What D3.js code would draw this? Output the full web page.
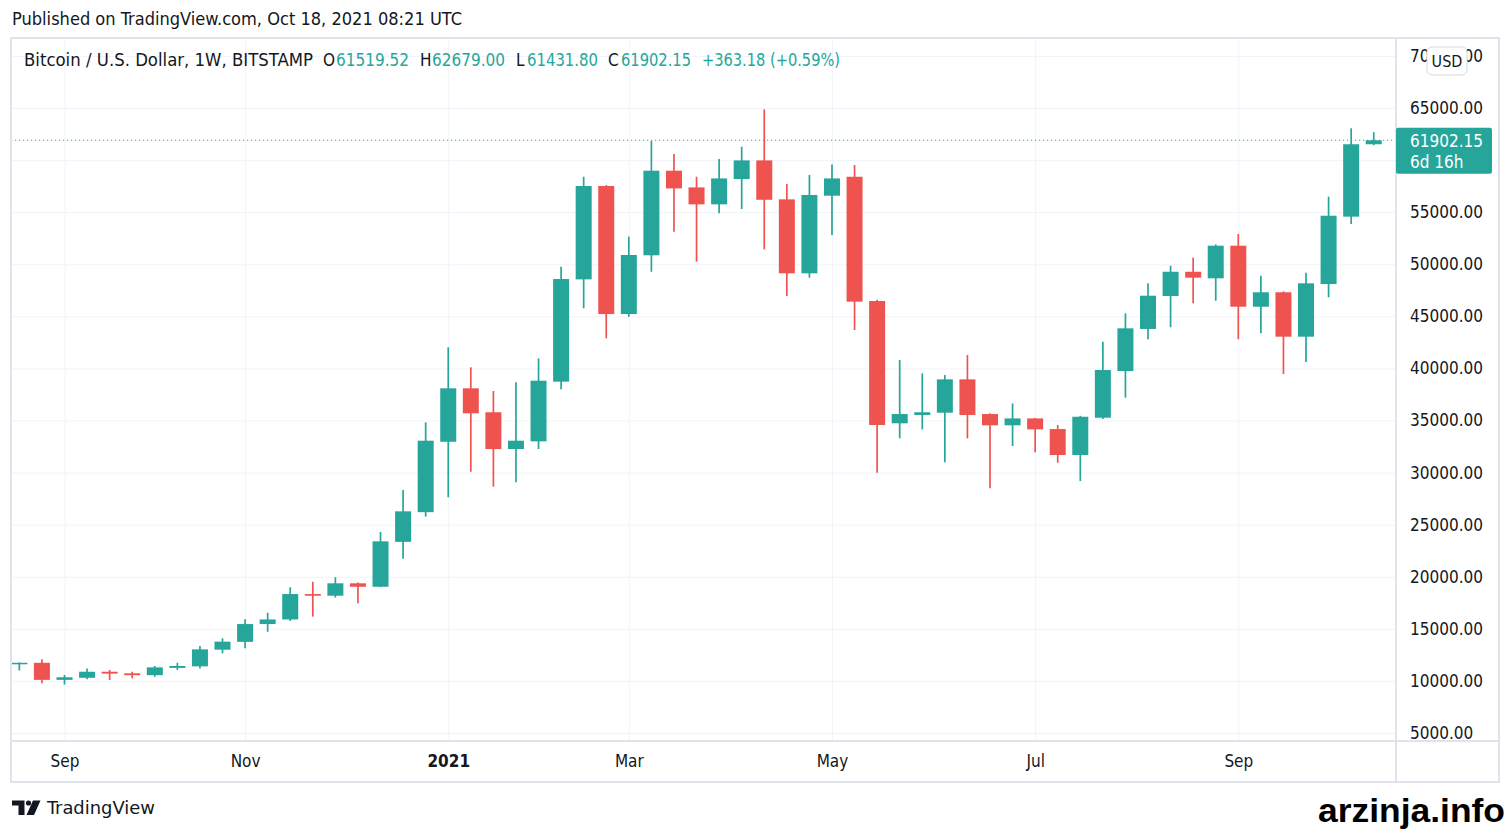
<!DOCTYPE html>
<html>
<head>
<meta charset="utf-8">
<script src="https://cdn.jsdelivr.net/npm/d3@7"></script>
<style>
body { margin: 0; background: #fff; }
text { font-family: "DejaVu Sans Condensed", "DejaVu Sans", sans-serif; fill: #131722; }
</style>
</head>
<body>
<div id="chart"></div>
<script>
// weekly candles, BTCUSD Bitstamp
var weeks = ["2020-08-24","2020-08-31","2020-09-07","2020-09-14","2020-09-21","2020-09-28","2020-10-05","2020-10-12",
    "2020-10-19","2020-10-26","2020-11-02","2020-11-09","2020-11-16","2020-11-23","2020-11-30","2020-12-07",
    "2020-12-14","2020-12-21","2020-12-28","2021-01-04","2021-01-11","2021-01-18","2021-01-25","2021-02-01",
    "2021-02-08","2021-02-15","2021-02-22","2021-03-01","2021-03-08","2021-03-15","2021-03-22","2021-03-29",
    "2021-04-05","2021-04-12","2021-04-19","2021-04-26","2021-05-03","2021-05-10","2021-05-17","2021-05-24",
    "2021-05-31","2021-06-07","2021-06-14","2021-06-21","2021-06-28","2021-07-05","2021-07-12","2021-07-19",
    "2021-07-26","2021-08-02","2021-08-09","2021-08-16","2021-08-23","2021-08-30","2021-09-06","2021-09-13",
    "2021-09-20","2021-09-27","2021-10-04","2021-10-11","2021-10-18"];
var opens = [11600, 11740, 10100, 10300, 10880, 10730, 10550, 11250,
    11400, 13000, 13750, 15460, 15900, 18340, 18180, 19370,
    19040, 23350, 26200, 32960, 38090, 35790, 32260, 33000,
    38730, 48550, 57510, 45220, 50860, 58980, 57380, 55750,
    58180, 59970, 56230, 49130, 56580, 58400, 46470, 34730,
    35530, 35750, 38950, 35620, 34540, 35200, 34180, 31690,
    35270, 39750, 43790, 46950, 49280, 48650, 51780, 45925,
    47310, 43045, 48100, 54570, 61519.52];
var highs = [11780, 12080, 10570, 11200, 11050, 10880, 11430, 11750,
    13350, 14090, 15910, 16550, 18990, 19520, 19950, 19450,
    24300, 28330, 34830, 42030, 40110, 37830, 38670, 40960,
    49760, 58400, 57600, 52650, 61830, 60580, 58400, 60100,
    61280, 64870, 57700, 58570, 59580, 59530, 46600, 40810,
    39530, 39370, 41290, 35700, 36640, 35250, 34570, 35450,
    42570, 45290, 48170, 49860, 50630, 51910, 52900, 48900,
    47400, 49190, 56490, 63050, 62679.00];
var lows = [11000, 9770, 9650, 10150, 10090, 10240, 10400, 11050,
    11200, 12650, 13130, 14720, 15750, 16170, 18000, 17450,
    19000, 21730, 25770, 27630, 30080, 28650, 29070, 32260,
    37990, 45770, 42890, 44960, 49280, 53130, 50250, 54890,
    55300, 51430, 46950, 48710, 52810, 43690, 29990, 33290,
    34140, 30990, 33290, 28490, 32550, 31950, 30950, 29190,
    35150, 37190, 42800, 43950, 46250, 46500, 42800, 43370,
    39460, 40620, 46830, 53860, 61431.80];
var closes = [11740, 10100, 10350, 10880, 10700, 10550, 11300, 11430,
    13030, 13770, 15460, 15900, 18340, 18180, 19370, 19040,
    23400, 26280, 33060, 38090, 35690, 32260, 33060, 38820,
    48580, 57510, 45220, 50890, 58980, 57280, 55750, 58240,
    59970, 56190, 49130, 56650, 58240, 46410, 34570, 35620,
    35790, 38950, 35530, 34540, 35200, 34150, 31690, 35360,
    39850, 43850, 46980, 49280, 48710, 51780, 45925, 47310,
    43045, 48170, 54660, 61520, 61902.15];

// axis ticks
var tickDates = ["2020-09-07","2020-11-02","2021-01-04","2021-03-01","2021-05-03","2021-07-05","2021-09-06"];
var tickLabels = ["Sep","Nov","2021","Mar","May","Jul","Sep"];
var priceTicks = [5000, 10000, 15000, 20000, 25000, 30000, 35000, 40000, 45000, 50000, 55000, 60000, 65000, 70000];

var upColor = "#26a69a";
var downColor = "#ef5350";
var gridColor = "#f0f3fa";
var borderColor = "#e0e3eb";

var svgWidth = 1509;
var svgHeight = 829;
var frame = {left: 11, top: 38, right: 1499, bottom: 782};
var plotRight = 1396;
var plotBottom = 741;

var parseDate = d3.utcParse("%Y-%m-%d");
var candles = weeks.map(function(w, i) {
    return {date: parseDate(w), open: opens[i], high: highs[i], low: lows[i], close: closes[i]};
});
var last = candles[candles.length - 1];

var svg = d3.select("#chart")
    .append("svg")
    .attr("width", svgWidth)
    .attr("height", svgHeight);

svg.append("rect")
    .attr("width", svgWidth)
    .attr("height", svgHeight)
    .attr("fill", "#fff");

// scales
var xScale = d3.scaleUtc()
    .domain([parseDate(tickDates[0]), parseDate(tickDates[6])])
    .range([64.5, 1238.3]);
var yScale = d3.scaleLinear()
    .domain([5000, 65000])
    .range([733, 108]);
var lastY = yScale(last.close);

// grid
var xGrid = svg.append("g")
    .attr("transform", `translate(0, ${plotBottom})`)
    .call(d3.axisBottom(xScale)
        .tickValues(tickDates.map(parseDate))
        .tickSize(-(plotBottom - frame.top))
        .tickFormat(""));
var yGrid = svg.append("g")
    .attr("transform", `translate(${frame.left}, 0)`)
    .call(d3.axisLeft(yScale)
        .tickValues(priceTicks)
        .tickSize(-(plotRight - frame.left))
        .tickFormat(""));
[xGrid, yGrid].forEach(function(g) {
    g.select(".domain").remove();
    g.selectAll("line").attr("stroke", gridColor).attr("stroke-width", 1);
});

// frame
svg.append("rect")
    .attr("x", frame.left)
    .attr("y", frame.top)
    .attr("width", frame.right - frame.left)
    .attr("height", frame.bottom - frame.top)
    .attr("fill", "none")
    .attr("stroke", borderColor)
    .attr("stroke-width", 2);
svg.append("line")
    .attr("x1", plotRight).attr("x2", plotRight)
    .attr("y1", frame.top).attr("y2", frame.bottom)
    .attr("stroke", borderColor).attr("stroke-width", 2);
svg.append("line")
    .attr("x1", frame.left).attr("x2", frame.right)
    .attr("y1", plotBottom).attr("y2", plotBottom)
    .attr("stroke", borderColor).attr("stroke-width", 2);

// candles
svg.append("clipPath")
    .attr("id", "plotClip")
    .append("rect")
    .attr("x", frame.left + 1)
    .attr("y", frame.top + 1)
    .attr("width", plotRight - frame.left - 2)
    .attr("height", plotBottom - frame.top - 2);

var candleGroup = svg.append("g").attr("clip-path", "url(#plotClip)");

// last price line
candleGroup.append("line")
    .attr("x1", frame.left)
    .attr("x2", plotRight)
    .attr("y1", lastY)
    .attr("y2", lastY)
    .attr("stroke", upColor)
    .attr("stroke-width", 1.2)
    .attr("stroke-dasharray", "1.2 2.8");

var bodyWidth = 16;
var candle = candleGroup.selectAll("g.candle")
    .data(candles)
    .enter()
    .append("g")
    .attr("class", "candle")
    .attr("fill", d => d.close >= d.open ? upColor : downColor)
    .attr("stroke", d => d.close >= d.open ? upColor : downColor);
candle.append("line")
    .attr("x1", d => xScale(d.date))
    .attr("x2", d => xScale(d.date))
    .attr("y1", d => yScale(d.high))
    .attr("y2", d => yScale(d.low))
    .attr("stroke-width", 1.7);
candle.append("rect")
    .attr("x", d => xScale(d.date) - bodyWidth / 2)
    .attr("y", d => yScale(Math.max(d.open, d.close)))
    .attr("width", bodyWidth)
    .attr("height", d => Math.max(1.5, Math.abs(yScale(d.open) - yScale(d.close))))
    .attr("stroke", "none");

// time axis
var timeAxis = svg.append("g")
    .attr("transform", `translate(0, ${plotBottom})`)
    .call(d3.axisBottom(xScale)
        .tickValues(tickDates.map(parseDate))
        .tickFormat((d, i) => tickLabels[i])
        .tickSize(0)
        .tickPadding(14));
timeAxis.select(".domain").remove();
timeAxis.selectAll("text")
    .attr("font-size", 17)
    .attr("font-family", null)
    .attr("fill", "#131722")
    .attr("font-weight", (d, i) => tickLabels[i] === "2021" ? "bold" : null);

// price axis (the label under the last price box is hidden, as on the chart)
var priceAxis = svg.append("g")
    .attr("transform", `translate(${plotRight}, 0)`)
    .call(d3.axisRight(yScale)
        .tickValues(priceTicks)
        .tickFormat(d => d.toFixed(2))
        .tickSize(0)
        .tickPadding(14));
priceAxis.select(".domain").remove();
priceAxis.selectAll("text")
    .attr("font-size", 17)
    .attr("font-family", null)
    .attr("fill", "#131722");
priceAxis.selectAll(".tick")
    .filter(d => yScale(d) > lastY - 16 && yScale(d) < lastY + 36)
    .remove();

// currency badge
svg.append("rect")
    .attr("x", 1427).attr("y", 47)
    .attr("width", 40).attr("height", 28)
    .attr("rx", 5)
    .attr("fill", "#fff")
    .attr("stroke", "#d6d9e0");
svg.append("text")
    .attr("x", 1447).attr("y", 67)
    .attr("text-anchor", "middle")
    .attr("font-size", 16)
    .text("USD");

// last price label
svg.append("rect")
    .attr("x", plotRight).attr("y", lastY - 12.5)
    .attr("width", 96).attr("height", 46)
    .attr("rx", 2)
    .attr("fill", upColor);
svg.append("text")
    .attr("x", 1410).attr("y", lastY + 6.5)
    .attr("font-size", 17)
    .style("fill", "#fff")
    .text(last.close.toFixed(2));
svg.append("text")
    .attr("x", 1410).attr("y", lastY + 27.5)
    .attr("font-size", 17)
    .style("fill", "#fff")
    .text("6d 16h");

// header
svg.append("text")
    .attr("x", 12).attr("y", 25)
    .attr("font-size", 17)
    .attr("textLength", 450)
    .attr("lengthAdjust", "spacingAndGlyphs")
    .text("Published on TradingView.com, Oct 18, 2021 08:21 UTC");

// legend
var legendParts = [
    {x: 24, text: "Bitcoin / U.S. Dollar, 1W, BITSTAMP", len: 289, up: false},
    {x: 323, text: "O", up: false},
    {x: 336, text: last.open.toFixed(2), len: 73, up: true},
    {x: 420, text: "H", up: false},
    {x: 432, text: last.high.toFixed(2), len: 73, up: true},
    {x: 516, text: "L", up: false},
    {x: 527, text: last.low.toFixed(2), len: 71, up: true},
    {x: 608, text: "C", up: false},
    {x: 621, text: last.close.toFixed(2), len: 70, up: true},
    {x: 702, text: "+363.18 (+0.59%)", len: 138, up: true}
];
legendParts.forEach(function(p) {
    var t = svg.append("text")
        .attr("x", p.x).attr("y", 66)
        .attr("font-size", 17)
        .style("fill", p.up ? upColor : "#131722")
        .text(p.text);
    if (p.len) {
        t.attr("textLength", p.len).attr("lengthAdjust", "spacingAndGlyphs");
    }
});

// TradingView logo
var logo = svg.append("g").attr("fill", "#131722");
logo.append("path").attr("d", "M12,800.5 H24.5 V815 H18.5 V805.5 H12 Z");
logo.append("circle").attr("cx", 28.5).attr("cy", 803).attr("r", 2.6);
logo.append("path").attr("d", "M33,800.5 H40.5 L34,815 H26.5 Z");
svg.append("text")
    .attr("x", 47).attr("y", 814)
    .attr("font-size", 18)
    .attr("textLength", 108)
    .attr("lengthAdjust", "spacingAndGlyphs")
    .text("TradingView");

// watermark
svg.append("text")
    .attr("x", 1318).attr("y", 822)
    .attr("font-size", 34)
    .attr("font-weight", "bold")
    .attr("textLength", 187)
    .attr("lengthAdjust", "spacingAndGlyphs")
    .style("font-family", "'Liberation Sans', Arial, sans-serif")
    .style("fill", "#000")
    .text("arzinja.info");
</script>
</body>
</html>
